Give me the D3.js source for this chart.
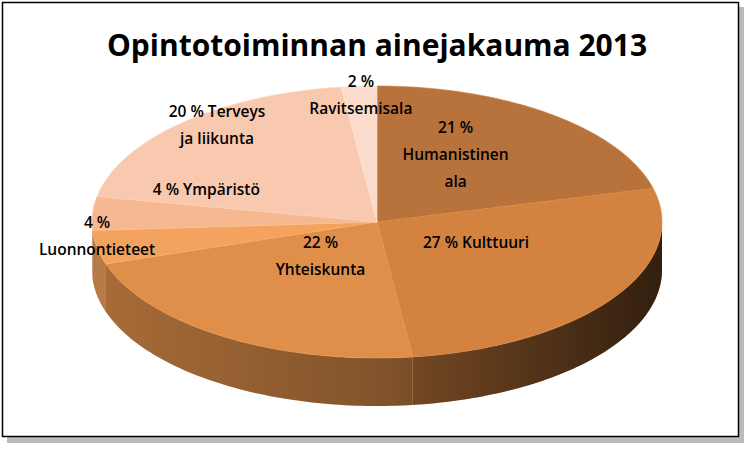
<!DOCTYPE html>
<html><head><meta charset="utf-8">
<script src="https://cdn.jsdelivr.net/npm/d3@7"></script>
<style>
body{margin:0;background:#fff}
text{font-family:"Open Sans","Liberation Sans",sans-serif;fill:#000}
.title{font-size:30px;font-weight:700}
.lbl{font-size:15.5px;font-weight:600}
</style></head><body>
<div id="chart"></div>
<script>
// --- 3D pie: Opintotoiminnan ainejakauma 2013 ---
const categories = ['Humanistinen ala', 'Kulttuuri', 'Yhteiskunta', 'Luonnontieteet', 'Ympäristö', 'Terveys ja liikunta', 'Ravitsemisala'];
const shares = [21, 27, 22, 4, 4, 20, 2];
const labelLines = [
  ['21 %', 'Humanistinen', 'ala'],
  ['27 %  Kulttuuri'],
  ['22 %', 'Yhteiskunta'],
  ['4 %', 'Luonnontieteet'],
  ['4 % Ympäristö'],
  ['20 % Terveys', 'ja liikunta'],
  ['2 %', 'Ravitsemisala']
];
const topColors = ['#b8733c', '#d3833f', '#df8f4a', '#f4a35e', '#f6b891', '#f8c8af', '#fadbcc'];

const W = 753, H = 451;
const cx = 377, cy = 222, rx = 285, ry = 136, depth = 48;

const svg = d3.select('#chart').append('svg').attr('width', W).attr('height', H);
const defs = svg.append('defs');
const shade = defs.append('linearGradient').attr('id', 'shade')
  .attr('gradientUnits', 'userSpaceOnUse')
  .attr('x1', cx - rx).attr('x2', cx + rx).attr('y1', 0).attr('y2', 0);
shade.append('stop').attr('offset', 0).attr('stop-color', '#000').attr('stop-opacity', 0.1);
shade.append('stop').attr('offset', 0.5).attr('stop-color', '#000').attr('stop-opacity', 0.3);
shade.append('stop').attr('offset', 1).attr('stop-color', '#000').attr('stop-opacity', 0.72);

// frame with shadow
svg.append('rect').attr('x', 7).attr('y', 7).attr('width', 737).attr('height', 436).attr('fill', '#bbb');
svg.append('rect').attr('x', 2.5).attr('y', 2.5).attr('width', 736).attr('height', 434)
  .attr('fill', '#fff').attr('stroke', '#000').attr('stroke-width', 1.5);

svg.append('text').attr('class', 'title').attr('x', cx).attr('y', 56)
  .attr('text-anchor', 'middle').text('Opintotoiminnan ainejakauma 2013');

const pie = d3.pie().sort(null).value(d => d);
const arcs = pie(shares);

// angle a: 0 = north, clockwise
const px = (a, f = 1) => cx + rx * f * Math.sin(a);
const py = (a, f = 1) => cy - ry * f * Math.cos(a);
const sample = (a0, a1) => {
  const n = Math.max(2, Math.ceil((a1 - a0) / 0.02));
  return d3.range(n + 1).map(i => a0 + (a1 - a0) * i / n);
};
const line = d3.line();

// side walls (front half only: PI/2 .. 3PI/2)
arcs.forEach((d, i) => {
  const a0 = Math.max(d.startAngle, Math.PI / 2), a1 = Math.min(d.endAngle, 3 * Math.PI / 2);
  if (a1 <= a0) return;
  const angs = sample(a0, a1);
  const pts = angs.map(a => [px(a), py(a)])
    .concat(angs.slice().reverse().map(a => [px(a), py(a) + depth]));
  const dPath = line(pts) + 'Z';
  const c = d3.color(topColors[i]).darker(0.5);
  svg.append('path').attr('d', dPath).attr('fill', c);
  svg.append('path').attr('d', dPath).attr('fill', 'url(#shade)');
});

// top faces
arcs.forEach((d, i) => {
  const pts = [[cx, cy]].concat(sample(d.startAngle, d.endAngle).map(a => [px(a), py(a)]));
  svg.append('path').attr('d', line(pts) + 'Z').attr('fill', topColors[i])
    .attr('stroke', d3.color(topColors[i]).brighter(0.15)).attr('stroke-width', 0.6);
});

// labels
const radial = [0.45, 0.42, 0.37, 1.0, 0.6, 0.82, 0.9];
const shiftY = [-20, -12, -9, -12, -28, -16, -5];
arcs.forEach((d, i) => {
  const m = (d.startAngle + d.endAngle) / 2;
  const x = px(m, radial[i]), y = py(m, radial[i]) + shiftY[i];
  const lines = labelLines[i];
  const lh = 27;
  const t = svg.append('text').attr('class', 'lbl').attr('text-anchor', 'middle');
  lines.forEach((s, k) => {
    t.append('tspan').attr('x', x).attr('y', y + (k - (lines.length - 1) / 2) * lh + 6).text(s);
  });
});
</script>
</body></html>
